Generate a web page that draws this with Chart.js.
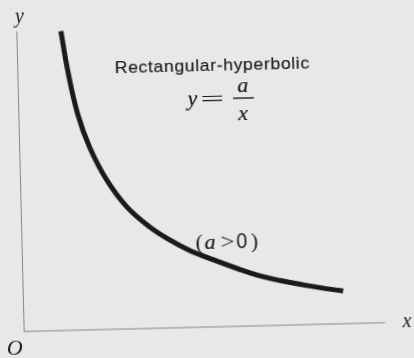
<!DOCTYPE html>
<html>
<head>
<meta charset="utf-8">
<script src="https://cdn.jsdelivr.net/npm/chart.js@4/dist/chart.umd.min.js"></script>
<style>
  html, body { margin: 0; padding: 0; width: 414px; height: 358px; overflow: hidden; background: #e8e8e6; }
  #fig { display: block; transform: rotate(-1.4deg); transform-origin: 50% 50%; }
</style>
</head>
<body>
<canvas id="fig" width="414" height="358"></canvas>
<script>
// Curve y = a/x (a > 0), sampled points in axis units
const curveX = [1.22, 1.38, 1.63, 1.94, 2.39, 2.92, 3.55, 4.10, 4.65, 5.20, 6.02, 6.57, 7.12, 7.67, 8.22, 8.86];
const curveY = [9.98, 8.68, 7.20, 6.08, 4.98, 4.08, 3.38, 2.93, 2.56, 2.28, 1.89, 1.66, 1.49, 1.35, 1.22, 1.09];

// Axis names and annotation text
const axisNames = ['x', 'y', 'O'];
const captionText = ['Rectangular-hyperbolic'];
const formulaParts = ['y', '=', 'a', 'x'];
const conditionParts = ['(', 'a', '>', '0', ')'];

const paper = '#e8e8e6';
const ink = '#1a1a1a';
const serif = '"Liberation Serif", "Times New Roman", serif';
const sans = '"Liberation Sans", Arial, sans-serif';

function put(chart, str, xv, yv, font, opts = {}) {
  const { ctx, scales: { x, y } } = chart;
  const px = x.getPixelForValue(xv), py = y.getPixelForValue(yv);
  ctx.save();
  ctx.font = font;
  ctx.fillStyle = ink;
  ctx.strokeStyle = ink;
  ctx.textAlign = 'center';
  ctx.textBaseline = opts.baseline || 'alphabetic';
  if (opts.spacing) ctx.letterSpacing = opts.spacing;
  ctx.translate(px, py);
  if (opts.width) {
    const w = ctx.measureText(str).width;
    ctx.scale(opts.width / w, 1);
  }
  ctx.fillText(str, 0, 0);
  if (opts.heavy) {
    ctx.lineWidth = opts.heavy;
    ctx.strokeText(str, 0, 0);
  }
  ctx.restore();
}

const figurePlugin = {
  id: 'figure',
  beforeDraw(chart) {
    const { ctx, width, height } = chart;
    ctx.save();
    ctx.fillStyle = paper;
    ctx.fillRect(0, 0, width, height);
    ctx.restore();
  },
  beforeDatasetsDraw(chart) {
    const { ctx, scales: { x, y } } = chart;
    const x0 = x.getPixelForValue(0), y0 = y.getPixelForValue(0);
    ctx.save();
    ctx.strokeStyle = '#555555';
    ctx.lineWidth = 1;
    ctx.setLineDash([1.2, 0.6]);
    ctx.beginPath();
    ctx.moveTo(x0, y.getPixelForValue(y.max));
    ctx.lineTo(x0, y0);
    ctx.lineTo(x.getPixelForValue(x.max), y0);
    ctx.stroke();
    ctx.restore();
  },
  afterDatasetsDraw(chart) {
    const { ctx, scales: { x, y } } = chart;
    // axis names
    put(chart, axisNames[0], 10.61, -0.15, 'italic 20px ' + serif);
    put(chart, axisNames[1], 0.08, 10.29, 'italic 20px ' + serif);
    put(chart, axisNames[2], -0.27, -0.78, 'italic 22px ' + serif);

    // caption
    put(chart, captionText[0], 5.39, 8.52, '17px ' + sans, { spacing: '0.6px', width: 195, heavy: 0.15 });

    // formula y = a / x
    put(chart, formulaParts[0], 4.82, 7.41, 'italic 22px ' + serif, { heavy: 0.2 });
    put(chart, formulaParts[1], 5.37, 7.56, '22px ' + serif, { baseline: 'middle', width: 24 });
    put(chart, formulaParts[2], 6.22, 7.80, 'italic 22px ' + serif, { heavy: 0.2 });
    put(chart, formulaParts[3], 6.21, 6.87, 'italic 22px ' + serif, { heavy: 0.2 });
    ctx.save();
    ctx.strokeStyle = ink;
    ctx.lineWidth = 1.4;
    ctx.beginPath();
    ctx.moveTo(x.getPixelForValue(5.94), y.getPixelForValue(7.60));
    ctx.lineTo(x.getPixelForValue(6.52), y.getPixelForValue(7.60));
    ctx.stroke();
    ctx.restore();

    // condition (a > 0)
    const cy = 2.6;
    put(chart, conditionParts[0], 4.91, cy, '22px ' + serif);
    put(chart, conditionParts[1], 5.21, cy, 'italic 22px ' + serif, { heavy: 0.2 });
    put(chart, conditionParts[2], 5.69, cy, '22px ' + serif, { width: 14 });
    put(chart, conditionParts[3], 6.09, cy, '22px ' + sans, { width: 11 });
    put(chart, conditionParts[4], 6.44, cy, '22px ' + serif);
  }
};

new Chart(document.getElementById('fig'), {
  type: 'line',
  data: {
    datasets: [{
      data: curveX.map((v, i) => ({ x: v, y: curveY[i] })),
      borderColor: ink,
      borderWidth: 5,
      borderCapStyle: 'butt',
      borderJoinStyle: 'round',
      tension: 0.4,
      pointRadius: 0,
      fill: false,
      clip: false
    }]
  },
  options: {
    responsive: false,
    animation: false,
    devicePixelRatio: 1,
    layout: { padding: { left: 20.5, top: 27, right: 32.5, bottom: 31 } },
    plugins: { legend: { display: false }, tooltip: { enabled: false }, title: { display: false } },
    scales: {
      x: { type: 'linear', min: 0, max: 10, display: false },
      y: { type: 'linear', min: 0, max: 10, display: false }
    }
  },
  plugins: [figurePlugin]
});
</script>
</body>
</html>
